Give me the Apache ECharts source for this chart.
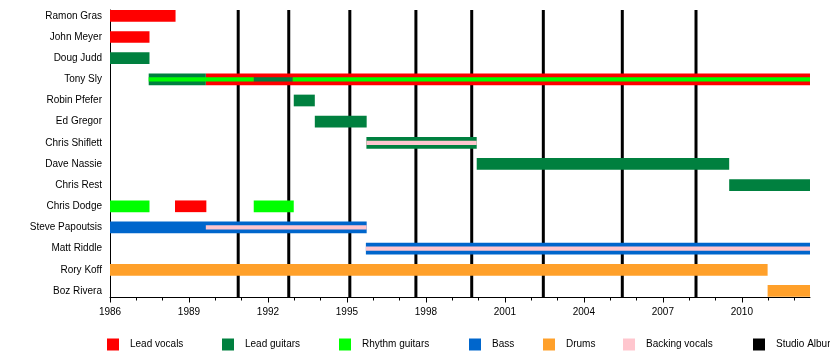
<!DOCTYPE html>
<html>
<head>
<meta charset="utf-8">
<script src="https://cdn.jsdelivr.net/npm/echarts@6/dist/echarts.min.js"></script>
<style>
html,body{margin:0;padding:0;background:#fff;}
#chart{width:830px;height:356px;}
</style>
</head>
<body>
<div id="chart"></div>
<script>
// ---- data ----
const members = ['Ramon Gras','John Meyer','Doug Judd','Tony Sly','Robin Pfefer','Ed Gregor','Chris Shiflett','Dave Nassie','Chris Rest','Chris Dodge','Steve Papoutsis','Matt Riddle','Rory Koff','Boz Rivera'];
const startYear = 1986;
const endYear = 2012.59;
const yearTicks = [1986,1987,1988,1989,1990,1991,1992,1993,1994,1995,1996,1997,1998,1999,2000,2001,2002,2003,2004,2005,2006,2007,2008,2009,2010,2011,2012];
const tickLabels = [1986,1989,1992,1995,1998,2001,2004,2007,2010];

// primary roles (full-height bars): [member, start, end]
const leadVocals = [['Ramon Gras',1986,1988.49],['John Meyer',1986,1987.5],['Tony Sly',1989.64,2012.59],['Chris Dodge',1988.47,1989.66]];
const leadGuitars = [['Doug Judd',1986,1987.5],['Tony Sly',1987.47,1989.64],['Robin Pfefer',1992.98,1993.78],['Ed Gregor',1993.78,1995.75],['Chris Shiflett',1995.74,1999.93],['Dave Nassie',1999.93,2009.52],['Chris Rest',2009.52,2012.59]];
const rhythmGuitars = [['Chris Dodge',1986,1987.5],['Chris Dodge',1991.46,1992.98]];
const bass = [['Steve Papoutsis',1986,1995.75],['Matt Riddle',1995.72,2012.59]];
const drums = [['Rory Koff',1986,2010.98],['Boz Rivera',2010.98,2012.59]];
// secondary roles (thin inner stripes)
const leadGuitarsSecondary = [['Tony Sly',1991.46,1992.94]];
const rhythmGuitarsSecondary = [['Tony Sly',1987.47,1991.46],['Tony Sly',1992.94,2012.59]];
const backingVocalsSecondary = [['Chris Shiflett',1995.74,1999.93],['Steve Papoutsis',1989.64,1995.75],['Matt Riddle',1995.72,2012.59]];
// studio album release dates
const studioAlbums = [1990.87,1992.79,1995.11,1997.62,1999.74,2002.46,2005.46,2008.26];

// ---- styling ----
const FONT = 'Liberation Sans, Arial, Helvetica, sans-serif';
const colors = {
  'Lead vocals':'#FF0000',
  'Lead guitars':'#00803F',
  'Rhythm guitars':'#00FF00',
  'Bass':'#0066CC',
  'Drums':'#FFA02A',
  'Backing vocals':'#FFC6CE',
  'Studio Albums':'#000000'
};
const yMin = -0.276, yMax = 13.31;

function toRows(arr){ return arr.map(d => [d[1], d[2], members.indexOf(d[0])]); }

function barRenderer(frac){
  return function(params, api){
    const row = api.value(2);
    const a = api.coord([api.value(0), row]);
    const b = api.coord([api.value(1), row]);
    const h = api.size([0, 1])[1] * frac;
    return {type:'rect', shape:{x:a[0], y:a[1]-h/2, width:b[0]-a[0], height:h}, style:{fill: api.visual('color')}};
  };
}
function barSeries(name, arr, frac){
  return {
    type:'custom', name:name, renderItem: barRenderer(frac),
    itemStyle:{color: colors[name]},
    encode:{x:[0,1], y:2}, data: toRows(arr), silent:true, animation:false
  };
}

const series = [
  {
    type:'custom', name:'Studio Albums', itemStyle:{color:'#000'}, silent:true, animation:false,
    data: studioAlbums.map(v => [v]), encode:{x:0},
    renderItem: function(params, api){
      const top = api.coord([api.value(0), yMin]);
      const bot = api.coord([api.value(0), yMax]);
      return {type:'line', shape:{x1:top[0], y1:top[1], x2:bot[0], y2:bot[1]}, style:{stroke:'#000', lineWidth:3}};
    }
  },
  barSeries('Lead vocals', leadVocals, 0.553),
  barSeries('Lead guitars', leadGuitars, 0.553),
  barSeries('Rhythm guitars', rhythmGuitars, 0.553),
  barSeries('Bass', bass, 0.553),
  barSeries('Drums', drums, 0.553),
  barSeries('Backing vocals', backingVocalsSecondary, 0.2),
  barSeries('Lead guitars', leadGuitarsSecondary, 0.2),
  barSeries('Rhythm guitars', rhythmGuitarsSecondary, 0.2)
];

const legendNames = ['Lead vocals','Lead guitars','Rhythm guitars','Bass','Drums','Backing vocals','Studio Albums'];
const legendLeft = [107,222,339,469,543,623,753];
const legends = legendNames.map((n,i) => ({
  data:[n], left: legendLeft[i], top: 338.5, padding:0,
  itemWidth:12, itemHeight:12, icon:'rect', selectedMode:false,
  textStyle:{fontFamily:FONT, fontSize:10, color:'#000', padding:[3,0,0,6]}
}));

const chart = echarts.init(document.getElementById('chart'), null, {renderer:'canvas'});
chart.setOption({
  animation:false,
  backgroundColor:'#fff',
  grid:{left:110, right:20, top:10, bottom:58.5, containLabel:false},
  xAxis:[
    {
      type:'value', position:'bottom', min:startYear, max:endYear,
      axisLine:{show:true, onZero:false, lineStyle:{color:'#000', width:1}},
      axisTick:{show:true, length:3, lineStyle:{color:'#000'}, customValues: yearTicks},
      axisLabel:{show:true, customValues: tickLabels, fontFamily:FONT, fontSize:10, color:'#000', margin:10, formatter: v => String(v)},
      splitLine:{show:false}
    },
    {
      type:'value', position:'bottom', min:startYear, max:endYear,
      axisLine:{show:false, onZero:false},
      axisTick:{show:true, length:5, lineStyle:{color:'#000'}, customValues: tickLabels},
      axisLabel:{show:false},
      splitLine:{show:false}
    }
  ],
  yAxis:{
    type:'value', inverse:true, min:yMin, max:yMax,
    axisLine:{show:true, onZero:false, lineStyle:{color:'#000', width:1}},
    axisTick:{show:false},
    splitLine:{show:false},
    axisLabel:{show:true, customValues: members.map((m,i)=>i), formatter: v => members[Math.round(v)] || '', fontFamily:FONT, fontSize:10, color:'#000', margin:8}
  },
  legend: legends,
  series: series
});
</script>
</body>
</html>
